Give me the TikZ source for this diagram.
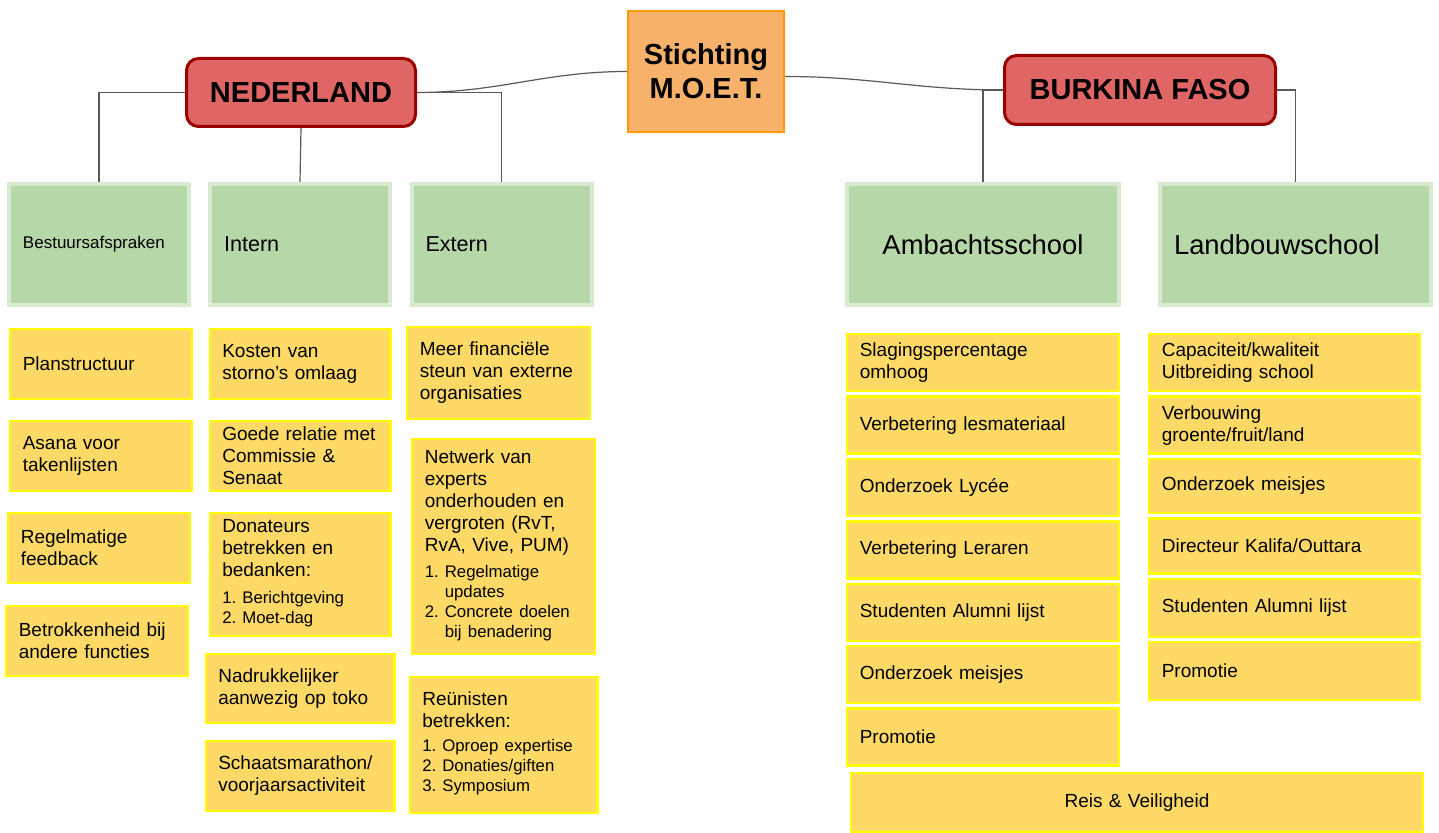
\documentclass[tikz,border=0pt]{standalone}
\usepackage{fontspec}
\setmainfont{Liberation Sans}
\definecolor{moet_orange}{RGB}{246, 178, 107}
\definecolor{moet_amber}{RGB}{255, 153, 0}
\definecolor{moet_red}{RGB}{224, 102, 102}
\definecolor{moet_darkred}{RGB}{153, 0, 0}
\definecolor{moet_green}{RGB}{182, 215, 168}
\definecolor{moet_palegreen}{RGB}{217, 234, 211}
\definecolor{moet_yellow}{RGB}{255, 217, 102}
\definecolor{moet_lemon}{RGB}{255, 255, 0}
\definecolor{moet_line}{RGB}{89, 89, 89}
\usetikzlibrary{positioning}
\newcommand{\lijst}[1]{{\fontsize{8.4}{10}\selectfont
  \begin{tabular}[t]{@{}l@{\hspace{3pt}}l@{}}#1\end{tabular}}}

\begin{document}
\begin{tikzpicture}[
        x=0.5pt, y=-0.5pt,
        hub/.style={draw=moet_amber, fill=moet_orange, line width=1pt,
                    minimum width=78pt, minimum height=60.5pt, align=center,
                    font=\bfseries\fontsize{14.5}{17}\selectfont},
        country/.style={draw=moet_darkred, fill=moet_red, line width=1.5pt,
                    rounded corners=6pt, align=center,
                    font=\bfseries\fontsize{14.5}{17}\selectfont},
        branch/.style={draw=moet_palegreen, fill=moet_green, line width=2pt,
                    minimum height=60.5pt, inner xsep=7pt, text width=#1,
                    align=left},
        branch/.default=76pt,
        goal/.style={draw=moet_lemon, fill=moet_yellow, line width=1.2pt,
                    inner xsep=6.3pt, inner ysep=2pt, text width=#1,
                    align=left, font=\fontsize{9.5}{11}\selectfont},
        goal/.default=78.2pt,
        conn/.style={draw=moet_line, line width=0.6pt},
      ]
        \useasboundingbox (0,0) rectangle (1439,833);
        \fill[white] (0,0) rectangle (1439,833);

        \node[hub] (moet) at (706, 71.5) {Stichting\\M.O.E.T.};
        \node[country, minimum width=114.5pt, minimum height=34pt] (ned) at (301, 92.5) {NEDERLAND};
        \node[country, minimum width=135.5pt, minimum height=34.5pt] (bf) at (1140, 90) {BURKINA FASO};

        \node[branch, font=\fontsize{8.5}{10}\selectfont] (bestuur) at (99, 244.5) {Bestuursafspraken};
        \node[branch, font=\fontsize{10.8}{12.5}\selectfont] (intern) at (300, 244.5) {Intern};
        \node[branch, font=\fontsize{10.8}{12.5}\selectfont] (extern) at (501.5, 244.5) {Extern};
        \node[branch=122pt, align=center, font=\fontsize{13.7}{16}\selectfont] (ambacht) at (983, 244.5) {Ambachtsschool};
        \node[branch=121.5pt, font=\fontsize{13.7}{16}\selectfont] (landbouw) at (1295.5, 244.5) {Landbouwschool};

        \draw[conn] (moet.west) to[out=180, in=0] (ned.east);
        \draw[conn] ([yshift=-2.5pt]moet.east) to[out=0, in=180] (bf.west);
        \draw[conn] (ned.west) -| (bestuur.north);
        \draw[conn] (ned.south) -- (intern.north);
        \draw[conn] (ned.east) -| (extern.north);
        \draw[conn] (bf.west) -| (ambacht.north);
        \draw[conn] (bf.east) -| (landbouw.north);

        % Nederland: bestuur
        \node[goal, minimum height=34.8pt, below=10.5pt of bestuur, xshift=1pt] (plan) {Planstructuur};
        \node[goal, minimum height=34.8pt, below=10pt of plan] (asana) {Asana voor\\takenlijsten};
        \node[goal, minimum height=34.8pt, below=10pt of asana, xshift=-1pt] (feedback) {Regelmatige\\feedback};
        \node[goal, minimum height=34.8pt, below=10.5pt of feedback, xshift=-1pt] (functies) {Betrokkenheid bij\\andere functies};

        % Nederland: intern
        \node[goal=77.7pt, minimum height=34.8pt, below=10.5pt of intern] (storno) {Kosten van\\storno's omlaag};
        \node[goal=77.7pt, minimum height=34.8pt, below=10pt of storno] (relatie) {Goede relatie met\\Commissie \&\\Senaat};
        \node[goal=77.7pt, minimum height=61.3pt, below=10pt of relatie] (donateurs)
          {Donateurs\\betrekken en\\bedanken:\\[2.5pt]
           \lijst{1. & Berichtgeving\\ 2. & Moet-dag}};
        \node[goal=81.7pt, minimum height=34.3pt, below=8pt of donateurs] (toko) {Nadrukkelijker\\aanwezig op toko};
        \node[goal=81.7pt, minimum height=34.8pt, below=8pt of toko] (schaats) {Schaatsmarathon/\\voorjaarsactiviteit};

        % Nederland: extern
        \node[goal=78.7pt, minimum height=45.8pt, below=9.5pt of extern, xshift=-1.5pt] (steun) {Meer financiële\\steun van externe\\organisaties};
        \node[goal=78.7pt, minimum height=107.3pt, below=9pt of steun, xshift=2.5pt] (netwerk)
          {Netwerk van\\experts\\onderhouden en\\vergroten (RvT,\\RvA, Vive, PUM)\\[2pt]
           \lijst{1. & Regelmatige\\ & updates\\ 2. & Concrete doelen\\ & bij benadering}};
        \node[goal=81.2pt, minimum height=67.8pt, below=10.5pt of netwerk] (reunisten)
          {Reünisten\\betrekken:\\[1pt]
           \lijst{1. & Oproep expertise\\ 2. & Donaties/giften\\ 3. & Symposium}};

        % Burkina Faso: ambachtsschool
        \node[goal=123.2pt, minimum height=28.5pt, below=13pt of ambacht] (slaging) {Slagingspercentage\\omhoog};
        \node[goal=123.2pt, minimum height=28.5pt, below=1.5pt of slaging] (lesmat) {Verbetering lesmateriaal};
        \node[goal=123.2pt, minimum height=28.5pt, below=1.5pt of lesmat] (lycee) {Onderzoek Lycée};
        \node[goal=123.2pt, minimum height=28.5pt, below=1.5pt of lycee] (leraren) {Verbetering Leraren};
        \node[goal=123.2pt, minimum height=28.5pt, below=1.5pt of leraren] (alumnia) {Studenten Alumni lijst};
        \node[goal=123.2pt, minimum height=28.5pt, below=1.5pt of alumnia] (meisjesa) {Onderzoek meisjes};
        \node[goal=123.2pt, minimum height=28.5pt, below=1.5pt of meisjesa] (promoa) {Promotie};

        % Burkina Faso: landbouwschool
        \node[goal=122.7pt, minimum height=28.5pt, below=13pt of landbouw, xshift=-5.5pt] (capaciteit) {Capaciteit/kwaliteit\\Uitbreiding school};
        \node[goal=122.7pt, minimum height=28.5pt, below=1.5pt of capaciteit] (verbouwing) {Verbouwing\\groente/fruit/land};
        \node[goal=122.7pt, minimum height=27pt, below=1.5pt of verbouwing] (meisjesb) {Onderzoek meisjes};
        \node[goal=122.7pt, minimum height=27.5pt, below=1.5pt of meisjesb] (directeur) {Directeur Kalifa/Outtara};
        \node[goal=122.7pt, minimum height=29pt, below=1.5pt of directeur] (alumnib) {Studenten Alumni lijst};
        \node[goal=122.7pt, minimum height=29pt, below=1.5pt of alumnib] (promob) {Promotie};

        \node[goal=273.2pt, minimum height=29.3pt, align=center] (reis) at (1137, 802.5) {Reis \& Veiligheid};
      \end{tikzpicture}
\end{document}
